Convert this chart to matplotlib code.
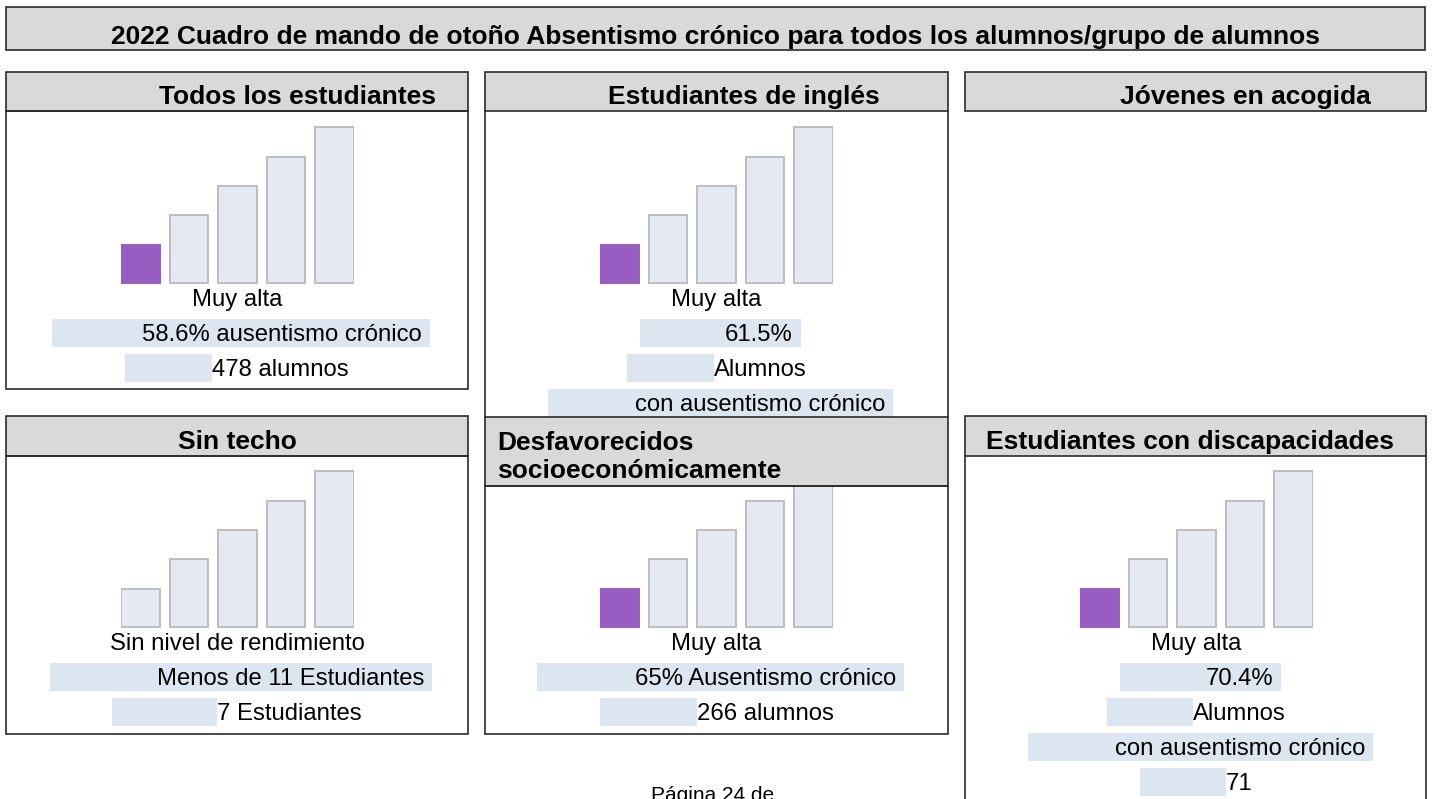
import matplotlib
matplotlib.use("Agg")
import matplotlib.pyplot as plt
from matplotlib.patches import Rectangle

plt.rcParams['font.family'] = ['Liberation Sans', 'DejaVu Sans']

# datos
titulo = "2022 Cuadro de mando de otoño Absentismo crónico para todos los alumnos/grupo de alumnos"
panel_titles = ["Todos los estudiantes", "Estudiantes de inglés", "Jóvenes en acogida",
                "Sin techo", "Desfavorecidos\nsocioeconómicamente", "Estudiantes con discapacidades"]
status_labels = ["Muy alta", "Muy alta", None,
                 "Sin nivel de rendimiento", "Muy alta", "Muy alta"]
info_lines = [
    ["58.6% ausentismo crónico", "478 alumnos"],
    ["61.5%", "Alumnos", "con ausentismo crónico"],
    [],
    ["Menos de 11 Estudiantes", "7 Estudiantes"],
    ["65% Ausentismo crónico", "266 alumnos"],
    ["70.4%", "Alumnos", "con ausentismo crónico", "71"],
]
highlighted = [0, 0, None, None, 0, 0]      # barra coloreada (nivel)
gauge_levels = [38, 68, 97, 126, 156]       # alturas de las 5 barras del indicador
pagina = "Página 24 de"

# colores
C_HEAD = '#D9D9D9'
C_BORDER = '#2B2B2B'
C_BAR = '#E4E9F2'
C_EDGE = '#BDBDBD'
C_PURPLE = '#985DC3'
C_HL = '#DCE6F1'

FS_HEAD = 19
FS_BODY = 17.2

# layout en pixeles
W, H = 1433, 799
layout = [
    dict(x0=6, x1=468, h0=72, h1=111, base=283, tx=298, ha='center', bottom=389),
    dict(x0=485, x1=948, h0=72, h1=111, base=283, tx=744, ha='center', bottom=None, vend=417),
    dict(x0=965, x1=1426, h0=72, h1=111, base=None, tx=1245, ha='center', bottom=None, vend=None),
    dict(x0=6, x1=468, h0=416, h1=456, base=627, tx=237, ha='center', bottom=734),
    dict(x0=485, x1=948, h0=417, h1=486, base=627, tx=497, ha='left', bottom=734),
    dict(x0=965, x1=1426, h0=416, h1=456, base=627, tx=1190, ha='center', bottom=None, vend=800),
]
# cajas resaltadas de cada linea (relativas al panel): (x0, x1, alineacion)
hl_boxes = [
    [(46, 424, 'right'), (119, 206, 'left')],
    [(155, 316, 'right'), (142, 229, 'left'), (63, 408, 'right')],
    [],
    [(44, 426, 'right'), (106, 211, 'left')],
    [(52, 419, 'right'), (115, 212, 'left')],
    [(155, 316, 'right'), (142, 228, 'left'), (63, 408, 'right'), (175, 261, 'left')],
]

fig = plt.figure(figsize=(W / 100, H / 100), dpi=100)
fig.patch.set_facecolor('white')

base = fig.add_axes([0, 0, 1, 1])
base.set_xlim(0, W)
base.set_ylim(H, 0)
base.axis('off')

top = fig.add_axes([0, 0, 1, 1], zorder=3)
top.set_xlim(0, W)
top.set_ylim(H, 0)
top.axis('off')
top.patch.set_alpha(0)

# titulo general
top.add_patch(Rectangle((6, 7), 1419, 43, facecolor=C_HEAD, edgecolor=C_BORDER, lw=1.2))
top.text(716, 44, titulo, ha='center', va='baseline', fontsize=FS_HEAD, fontweight='bold')

for i, L in enumerate(layout):
    x0, x1 = L['x0'], L['x1']
    # cabecera
    top.add_patch(Rectangle((x0, L['h0']), x1 - x0, L['h1'] - L['h0'],
                            facecolor=C_HEAD, edgecolor=C_BORDER, lw=1.2))
    if '\n' in panel_titles[i]:
        top.text(L['tx'], L['h0'] + 61, panel_titles[i], ha=L['ha'], va='baseline',
                 fontsize=FS_HEAD, fontweight='bold', linespacing=1.22)
    else:
        top.text(L['tx'], L['h1'] - 7, panel_titles[i], ha=L['ha'], va='baseline',
                 fontsize=FS_HEAD, fontweight='bold')
    if L['base'] is None:
        continue
    # bordes del cuerpo
    if L['bottom'] is not None:
        top.add_patch(Rectangle((x0, L['h1']), x1 - x0, L['bottom'] - L['h1'],
                                facecolor='none', edgecolor=C_BORDER, lw=1.2))
    else:
        top.plot([x0, x0], [L['h1'], L['vend']], color=C_BORDER, lw=1.2)
        top.plot([x1, x1], [L['h1'], L['vend']], color=C_BORDER, lw=1.2)

    # barras del indicador
    b = L['base']
    ax = fig.add_axes([(x0 + 115) / W, 1 - (b + 1) / H, 233 / W, 159 / H], zorder=1)
    colors = [C_BAR] * len(gauge_levels)
    edges = [C_EDGE] * len(gauge_levels)
    if highlighted[i] is not None:
        colors[highlighted[i]] = C_PURPLE
        edges[highlighted[i]] = C_PURPLE
    ax.bar(range(len(gauge_levels)), gauge_levels, width=0.8, color=colors,
           edgecolor=edges, linewidth=1.4)
    ax.set_xlim(-0.4, 4.4)
    ax.set_ylim(-1, 158)
    ax.axis('off')

    # textos
    base.text(x0 + 231, b + 23, status_labels[i], ha='center', va='baseline', fontsize=FS_BODY)
    for j, (txt, box) in enumerate(zip(info_lines[i], hl_boxes[i])):
        y = b + 36 + 35 * j
        bx0, bx1, al = box
        base.add_patch(Rectangle((x0 + bx0, y), bx1 - bx0, 28, facecolor=C_HL, edgecolor='none'))
        if al == 'right':
            base.text(x0 + bx1 - 8, y + 22, txt, ha='right', va='baseline', fontsize=FS_BODY)
        else:
            base.text(x0 + bx1, y + 22, txt, ha='left', va='baseline', fontsize=FS_BODY)

base.text(713, 801, pagina, ha='center', va='baseline', fontsize=15)

fig.savefig('out.png', dpi=100)
